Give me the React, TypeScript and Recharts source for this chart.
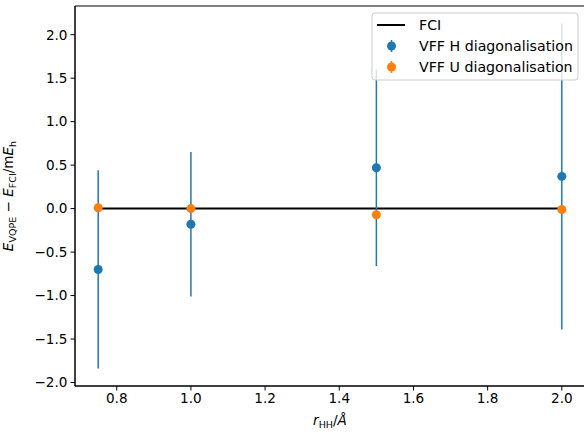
import { ComposedChart, Line, Scatter, ErrorBar, XAxis, YAxis, ReferenceArea } from 'recharts';

const rValues = [0.75, 1.0, 1.5, 2.0];
const fciValues = [0, 0, 0, 0];
const hValues = [-0.7, -0.18, 0.47, 0.37];
const hErrors = [1.14, 0.83, 1.13, 1.76];
const uValues = [0.01, 0.0, -0.07, -0.01];
const uErrors = [0.01, 0.01, 0.01, 0.01];

const xTicks = [0.8, 1.0, 1.2, 1.4, 1.6, 1.8, 2.0];
const yTicks = [-2.0, -1.5, -1.0, -0.5, 0.0, 0.5, 1.0, 1.5, 2.0];

const xDomain: [number, number] = [0.6875, 2.0625];
const yDomain: [number, number] = [-2.04, 2.33];

const BLUE = '#1f77b4';
const ORANGE = '#ff7f0e';
const FONT = "'DejaVu Sans', sans-serif";
const FS = 13.6;
const LEG_FS = 14.2;

const fciData = rValues.map((x, i) => ({ x, y: fciValues[i] }));
const hData = rValues.map((x, i) => ({ x, y: hValues[i], err: hErrors[i] }));
const uData = rValues.map((x, i) => ({ x, y: uValues[i], err: uErrors[i] }));

const fmt = (v: number) => v.toFixed(1).replace('-', '\u2212');

const dot = (color: string) => (p: any) => <circle cx={p.cx} cy={p.cy} r={4.5} fill={color} />;

function Legend() {
  const rows = [
    { label: 'FCI', kind: 'line', color: '#000' },
    { label: 'VFF H diagonalisation', kind: 'dot', color: BLUE },
    { label: 'VFF U diagonalisation', kind: 'dot', color: ORANGE },
  ];
  return (
    <svg width={210} height={70} style={{ position: 'absolute', left: 371, top: 12 }}>
      <rect x={1} y={1} width={206} height={67} rx={3} fill="#fff" fillOpacity={0.8} stroke="#cccccc" />
      {rows.map((r, i) => {
        const cy = 13 + i * 21;
        return (
          <g key={r.label}>
            {r.kind === 'line' ? (
              <line x1={6} x2={34} y1={cy} y2={cy} stroke="#000" strokeWidth={2} />
            ) : (
              <g>
                <line x1={20.5} x2={20.5} y1={cy - 6} y2={cy + 6} stroke={r.color} strokeWidth={1.5} />
                <circle cx={20.5} cy={cy} r={4.5} fill={r.color} />
              </g>
            )}
            <text x={48} y={cy} dy="0.36em" fontSize={LEG_FS} fontFamily={FONT} fill="#000">
              {r.label}
            </text>
          </g>
        );
      })}
    </svg>
  );
}

export default function App() {
  return (
    <div style={{ position: 'absolute', left: 0, top: 0, width: 584, height: 435, overflow: 'hidden', background: '#fff' }}>
      <ComposedChart width={586} height={435} margin={{ top: 6, right: 1, bottom: 0, left: 0 }}>
        <XAxis
          type="number"
          dataKey="x"
          domain={xDomain}
          ticks={xTicks}
          allowDataOverflow
          tickFormatter={fmt}
          height={49}
          stroke="#000"
          tickSize={4.5}
          tickMargin={3}
          tick={{ fontSize: FS, fontFamily: FONT, fill: '#000' }}
        />
        <YAxis
          type="number"
          dataKey="y"
          domain={yDomain}
          ticks={yTicks}
          allowDataOverflow
          tickFormatter={fmt}
          width={75}
          stroke="#000"
          tickSize={4.5}
          tickMargin={3}
          tick={{ fontSize: FS, fontFamily: FONT, fill: '#000' }}
        />
        <ReferenceArea x1={xDomain[0]} x2={xDomain[1]} y1={yDomain[0]} y2={yDomain[1]} fill="none" stroke="#000" strokeOpacity={1} fillOpacity={0} />
        <Line data={fciData} dataKey="y" stroke="#000" strokeWidth={2} dot={false} isAnimationActive={false} type="linear" />
        <Scatter data={hData} dataKey="y" fill={BLUE} shape={dot(BLUE)} isAnimationActive={false}>
          <ErrorBar dataKey="err" direction="y" width={0} stroke={BLUE} strokeWidth={1.5} />
        </Scatter>
        <Scatter data={uData} dataKey="y" fill={ORANGE} shape={dot(ORANGE)} isAnimationActive={false}>
          <ErrorBar dataKey="err" direction="y" width={0} stroke={ORANGE} strokeWidth={1.5} />
        </Scatter>
      </ComposedChart>
      <svg width={584} height={435} style={{ position: 'absolute', left: 0, top: 0, pointerEvents: 'none' }}>
        <text x={330} y={425} textAnchor="middle" fontSize={FS} fontFamily={FONT} fill="#000">
          <tspan fontStyle="italic">r</tspan>
          <tspan fontSize={9.5} dy={3}>HH</tspan>
          <tspan dy={-3}>/</tspan>
          <tspan fontStyle="italic">Å</tspan>
        </text>
        <text
          x={13}
          y={196}
          textAnchor="middle"
          transform="rotate(-90, 13, 196)"
          fontSize={FS}
          fontFamily={FONT}
          fill="#000"
        >
          <tspan fontStyle="italic">E</tspan>
          <tspan fontSize={9.5} dy={3}>VQPE</tspan>
          <tspan dy={-3}> {'\u2212'} </tspan>
          <tspan fontStyle="italic">E</tspan>
          <tspan fontSize={9.5} dy={3}>FCI</tspan>
          <tspan dy={-3}>/m</tspan>
          <tspan fontStyle="italic">E</tspan>
          <tspan fontSize={9.5} dy={3}>h</tspan>
        </text>
      </svg>
      <Legend />
    </div>
  );
}
